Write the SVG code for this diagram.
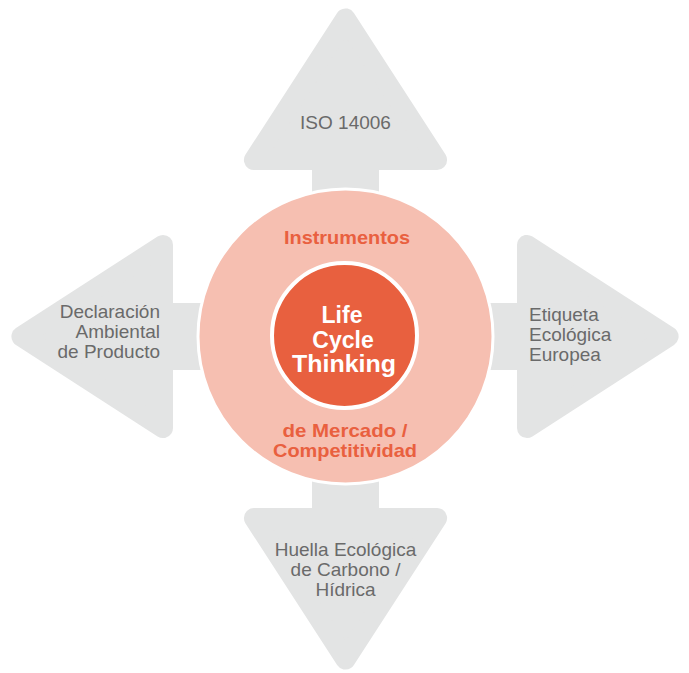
<svg xmlns="http://www.w3.org/2000/svg" width="689" height="673" viewBox="0 0 689 673">
<style>
.arrow{fill:#E3E4E4;stroke:#E3E4E4;stroke-width:20;stroke-linejoin:round}
.stem{fill:#E3E4E4}
.lbl{font-family:"Liberation Sans",Arial,sans-serif;font-size:19px;fill:#6A6A6A}
.ring{font-family:"Liberation Sans",Arial,sans-serif;font-weight:bold;font-size:18.5px;fill:#E9603F;text-anchor:middle}
.core{font-family:"Liberation Sans",Arial,sans-serif;font-weight:bold;font-size:23px;fill:#FFFFFF;text-anchor:middle}
</style>
<defs>
<g id="arrowShape">
<rect class="stem" x="-33.5" y="-5" width="67" height="45"/>
<polygon class="arrow" points="0,-151.6 -91.6,-10 91.6,-10"/>
</g>
</defs>
<rect width="689" height="673" fill="#FFFFFF"/>
<g id="connectors">
<use href="#arrowShape" transform="translate(345.5,170)"/>
<use href="#arrowShape" transform="translate(173,336.5) rotate(-90)"/>
<use href="#arrowShape" transform="translate(517,336.5) rotate(90)"/>
<use href="#arrowShape" transform="translate(345.5,508) rotate(180)"/>
</g>
<g id="node-iso">
<text class="lbl" x="345.5" y="129" text-anchor="middle">ISO 14006</text>
</g>
<g id="node-declaracion">
<text class="lbl" x="160" y="318" text-anchor="end">Declaración</text>
<text class="lbl" x="160" y="338" text-anchor="end">Ambiental</text>
<text class="lbl" x="160" y="358" text-anchor="end">de Producto</text>
</g>
<g id="node-etiqueta">
<text class="lbl" x="529" y="321">Etiqueta</text>
<text class="lbl" x="529" y="341">Ecológica</text>
<text class="lbl" x="529" y="361">Europea</text>
</g>
<g id="node-huella">
<text class="lbl" x="345.5" y="556" text-anchor="middle">Huella Ecológica</text>
<text class="lbl" x="345.5" y="576" text-anchor="middle">de Carbono /</text>
<text class="lbl" x="345.5" y="596" text-anchor="middle">Hídrica</text>
</g>
<g id="node-instrumentos">
<circle cx="345.5" cy="336.5" r="147.5" fill="#F6BFB1" stroke="#FFFFFF" stroke-width="3"/>
<text class="ring" x="347" y="244" textLength="126" lengthAdjust="spacingAndGlyphs">Instrumentos</text>
<text class="ring" x="345" y="437" textLength="125" lengthAdjust="spacingAndGlyphs">de Mercado /</text>
<text class="ring" x="345" y="457" textLength="144" lengthAdjust="spacingAndGlyphs">Competitividad</text>
</g>
<g id="node-lct">
<circle cx="344.5" cy="335.5" r="72.5" fill="#E8603F" stroke="#FFFFFF" stroke-width="4"/>
<text class="core" x="342" y="323">Life</text>
<text class="core" x="343" y="347.5">Cycle</text>
<text class="core" x="344" y="372" textLength="104" lengthAdjust="spacingAndGlyphs">Thinking</text>
</g>
</svg>
